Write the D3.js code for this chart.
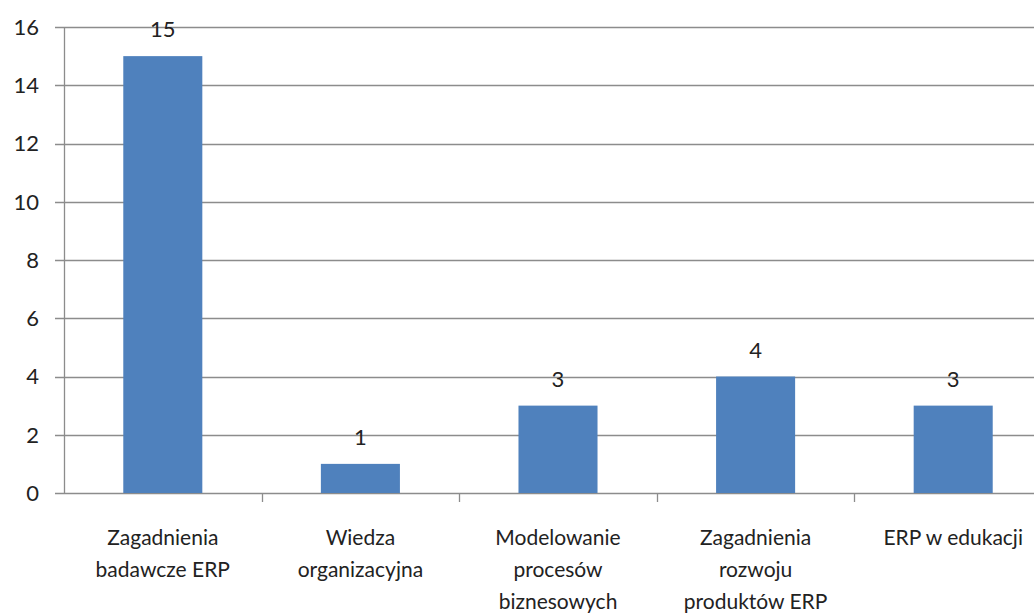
<!DOCTYPE html>
<html>
<head>
<meta charset="utf-8">
<script src="https://cdn.jsdelivr.net/npm/d3@7"></script>
<style>
  body { margin: 0; background: #fff; }
  text { font-family: Lato, "Open Sans", sans-serif; fill: #222; }
</style>
</head>
<body>
<script>
const categories = [
  ["Zagadnienia", "badawcze ERP"],
  ["Wiedza", "organizacyjna"],
  ["Modelowanie", "procesów", "biznesowych"],
  ["Zagadnienia", "rozwoju", "produktów ERP"],
  ["ERP w edukacji"]
];
const values = [15, 1, 3, 4, 3];
const yTicks = [0, 2, 4, 6, 8, 10, 12, 14, 16];

let width = 1034, height = 613;
let mLeft = 64, mRight = 1052, mTop = 27, mBottom = 493;

let svg = d3.select("body").append("svg")
  .attr("width", width).attr("height", height);

let x = d3.scaleBand()
  .domain(d3.range(values.length))
  .range([mLeft, mRight])
  .paddingInner(0.6)
  .paddingOuter(0.3);

let y = d3.scaleLinear().domain([0, 16]).range([mBottom, mTop]);

// gridlines
svg.append("g").selectAll("line")
  .data(yTicks)
  .join("line")
  .attr("x1", mLeft - 9).attr("x2", width)
  .attr("y1", d => Math.round(y(d)) + 0.5).attr("y2", d => Math.round(y(d)) + 0.5)
  .attr("stroke", "#8c8c8c").attr("stroke-width", 1.3);

// y axis line
svg.append("line")
  .attr("x1", mLeft + 0.5).attr("x2", mLeft + 0.5)
  .attr("y1", mTop).attr("y2", mBottom)
  .attr("stroke", "#8c8c8c").attr("stroke-width", 1.3);

// y labels
svg.append("g").selectAll("text")
  .data(yTicks)
  .join("text")
  .attr("x", 39).attr("y", d => y(d))
  .attr("dy", "0.36em")
  .attr("text-anchor", "end")
  .attr("font-size", 22)
  .text(d => d);

// category ticks
let step = x.step();
svg.append("g").selectAll("line")
  .data(d3.range(1, values.length))
  .join("line")
  .attr("x1", d => Math.round(mLeft + d * step) + 0.5)
  .attr("x2", d => Math.round(mLeft + d * step) + 0.5)
  .attr("y1", mBottom).attr("y2", mBottom + 9)
  .attr("stroke", "#8c8c8c").attr("stroke-width", 1.3);

// bars
svg.append("g").selectAll("rect")
  .data(values)
  .join("rect")
  .attr("x", (d, i) => x(i))
  .attr("width", x.bandwidth())
  .attr("y", d => y(d))
  .attr("height", d => mBottom - y(d))
  .attr("fill", "#4f81bd");

// value labels
svg.append("g").selectAll("text")
  .data(values)
  .join("text")
  .attr("x", (d, i) => x(i) + x.bandwidth() / 2)
  .attr("y", d => y(d) - 19)
  .attr("text-anchor", "middle")
  .attr("font-size", 22)
  .text(d => d);

// category labels
svg.append("g").selectAll("text")
  .data(categories)
  .join("text")
  .attr("x", (d, i) => x(i) + x.bandwidth() / 2)
  .attr("y", 545)
  .attr("text-anchor", "middle")
  .attr("font-size", 21)
  .selectAll("tspan")
  .data(d => d)
  .join("tspan")
  .attr("x", function() { return this.parentNode.getAttribute("x"); })
  .attr("dy", (d, i) => i === 0 ? 0 : 32)
  .text(d => d);
</script>
</body>
</html>
